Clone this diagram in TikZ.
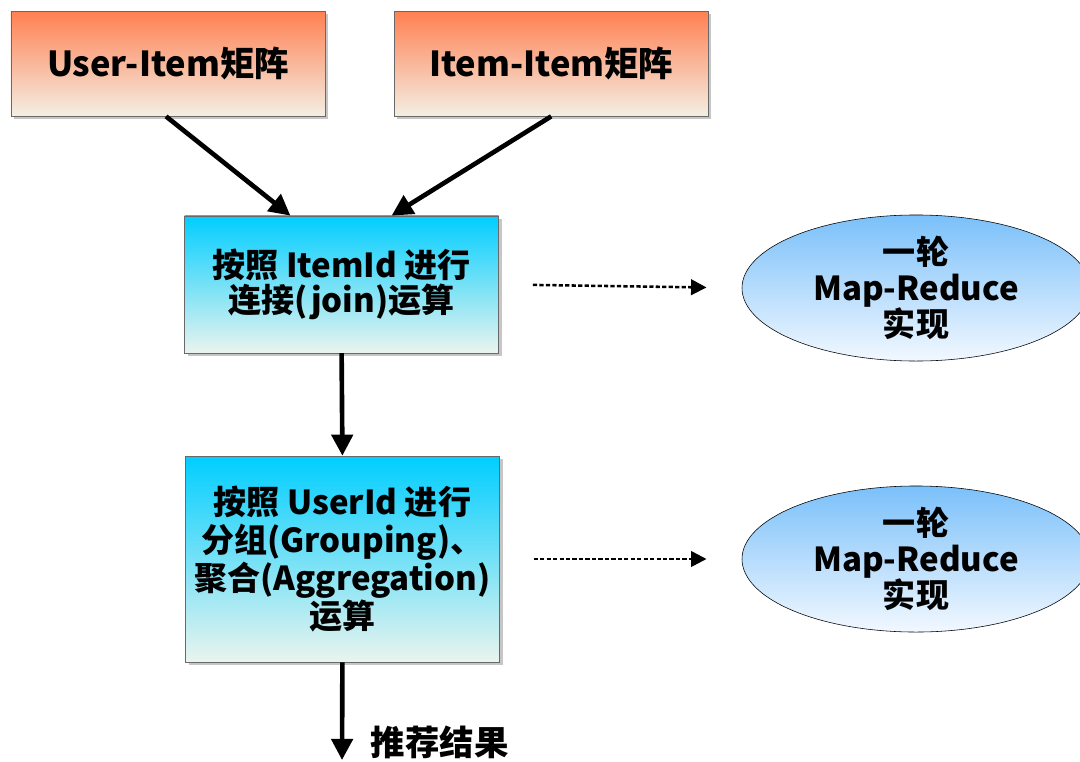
\documentclass[tikz,border=0pt]{standalone}
\usepackage{fontspec}
\setmainfont{Noto Sans CJK SC}
\usepackage{tikz}
\usetikzlibrary{arrows.meta, positioning, shapes.geometric, shadows}
\definecolor{mcoral}{RGB}{255,128,82}
\definecolor{mcream}{RGB}{243,239,228}
\definecolor{mcyan}{RGB}{0,206,255}
\definecolor{mpale}{RGB}{234,244,238}
\definecolor{msky}{RGB}{122,192,250}
\definecolor{mice}{RGB}{242,248,255}
\definecolor{medge}{RGB}{105,105,105}

\begin{document}
\begin{tikzpicture}[font=\fontsize{23.5}{25.5}\selectfont\bfseries,
  matbox/.style={rectangle, draw=medge, thin, top color=mcoral, bottom color=mcream,
    minimum width=7.85cm, minimum height=2.625cm, inner sep=0pt,
    font=\fontsize{24.5}{26}\selectfont\bfseries,
    drop shadow={shadow xshift=0.08cm, shadow yshift=-0.08cm, fill=gray!45, opacity=1}},
  opbox/.style={rectangle, draw=medge, thin, top color=mcyan, bottom color=mpale,
    minimum width=7.85cm, inner sep=0pt, align=center,
    drop shadow={shadow xshift=0.08cm, shadow yshift=-0.08cm, fill=gray!45, opacity=1}},
  mrnode/.style={ellipse, draw=black, thin, top color=msky, bottom color=mice,
    minimum width=8.7cm, minimum height=3.45cm, inner sep=0pt, align=center},
  flow/.style={-{Triangle[length=15pt, width=15pt]}, line width=3.3pt},
  maps/.style={-{Triangle[length=11pt, width=11pt]}, line width=1.8pt,
    dash pattern=on 3pt off 1.6pt, shorten <=0.85cm, shorten >=0.88cm}]

  \useasboundingbox (0,0) rectangle (27,-19.025);

  % ── input matrices ──
  \node[matbox] (useritem) at (4.2,-1.59) {User-Item矩阵};
  \node[matbox] (itemitem) at (13.78,-1.59) {Item-Item矩阵};

  % ── join step ──
  \node[opbox, minimum height=3.425cm] (join) at (8.54,-7.11)
    {按照 ItemId 进行\\连接(join)运算};

  % ── grouping / aggregation step ──
  \node[opbox, minimum height=5.15cm, font=\fontsize{23.5}{27}\selectfont\bfseries] (group) at (8.56,-13.975)
    {按照 UserId 进行\\分组(Grouping)、\\聚合(Aggregation)\\运算};

  % ── one Map-Reduce round each ──
  \node[mrnode] (mrjoin) at (22.9,-7.2) {一轮\\Map-Reduce\\实现};
  \node[mrnode] (mrgroup) at (22.9,-13.975) {一轮\\Map-Reduce\\实现};

  % ── result ──
  \coordinate (result) at (8.55,-19.0);
  \node[anchor=west, font=\fontsize{24.5}{26}\selectfont\bfseries] (resultlabel) at (9.15,-18.55) {推荐结果};

  % ── connectors ──
  \draw[flow] ([xshift=-0.05cm]useritem.south) -- ([xshift=-1.28cm]join.north);
  \draw[flow] (itemitem.south) -- ([xshift=1.25cm]join.north);
  \draw[flow] (join.south) -- (group.north);
  \draw[flow] (group.south) -- (result);
  \draw[maps] (join.east) -- (mrjoin.west);
  \draw[maps] (group.east) -- (mrgroup.west);

\end{tikzpicture}
\end{document}
